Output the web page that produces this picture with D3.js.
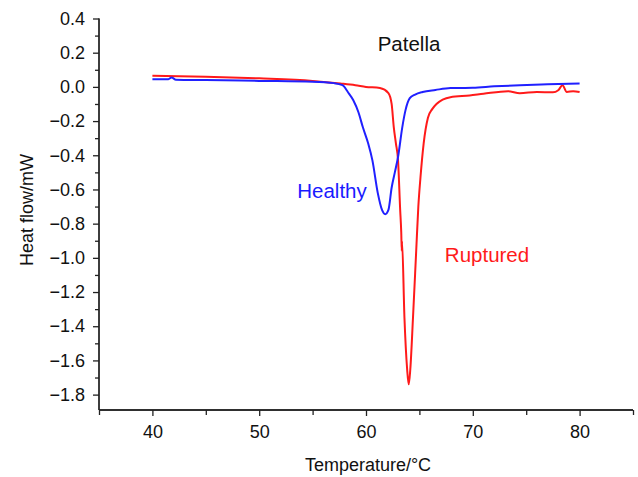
<!DOCTYPE html>
<html><head><meta charset="utf-8">
<script src="https://cdn.jsdelivr.net/npm/d3@7"></script>
<style>body{margin:0;background:#fff}svg{display:block}text{font-family:"Liberation Sans",Arial,sans-serif}</style>
</head><body><svg id="c" width="638" height="477"></svg>
<script>
const healthyT = [40, 41.5, 41.8, 42.2, 45, 50, 55, 57, 57.8, 58.3, 58.8, 59.3, 59.7, 60.2, 60.6, 61.1, 61.5, 61.8, 62.1, 62.4, 62.7, 63.0, 63.4, 63.7, 64.1, 64.6, 65.3, 66.5, 67.9, 70, 72, 74.4, 77, 80];
const healthyV = [0.045, 0.045, 0.055, 0.042, 0.04, 0.035, 0.03, 0.022, 0.01, -0.03, -0.077, -0.15, -0.235, -0.33, -0.43, -0.62, -0.72, -0.745, -0.72, -0.59, -0.5, -0.41, -0.235, -0.136, -0.066, -0.045, -0.03, -0.018, -0.007, -0.005, 0.003, 0.01, 0.015, 0.02];
const rupturedT = [40, 45, 50, 55, 57.6, 59, 60, 61.3, 62.1, 62.4, 62.6, 62.8, 63.0, 63.2, 63.3, 63.35, 63.37, 63.6, 63.85, 64.0, 64.15, 64.4, 64.7, 64.9, 65.1, 65.4, 65.8, 66.2, 66.6, 67.9, 69.7, 71, 73.3, 74.4, 76, 77.5, 78.0, 78.4, 78.8, 79.4, 80];
const rupturedV = [0.065, 0.06, 0.05, 0.035, 0.02, 0.01, 0.0, -0.007, -0.036, -0.1, -0.235, -0.33, -0.43, -0.72, -0.85, -0.96, -0.9, -1.35, -1.65, -1.74, -1.65, -1.35, -0.96, -0.7, -0.53, -0.33, -0.18, -0.13, -0.1, -0.06, -0.05, -0.04, -0.025, -0.037, -0.03, -0.032, -0.02, 0.01, -0.03, -0.025, -0.03];
const xTicks = [40, 50, 60, 70, 80];
const xMinorTicks = [35, 45, 55, 65, 75, 85];
const yTicks = [0.4, 0.2, 0.0, -0.2, -0.4, -0.6, -0.8, -1.0, -1.2, -1.4, -1.6, -1.8];
const yMinorTicks = [0.3, 0.1, -0.1, -0.3, -0.5, -0.7, -0.9, -1.1, -1.3, -1.5, -1.7];

const svg = d3.select("#c");
const x = d3.scaleLinear().domain([35, 85]).range([99, 633]);
const y = d3.scaleLinear().domain([-1.89, 0.4]).range([410, 18.5]);
const fmt = v => (v < 0 ? "\u2212" : "") + Math.abs(v).toFixed(1);

const xg = svg.append("g").attr("transform", "translate(0,410)");
xg.call(d3.axisBottom(x).tickValues(xTicks).tickSize(6).tickPadding(9).tickFormat(d3.format("d")));
xg.append("g").call(d3.axisBottom(x).tickValues(xMinorTicks).tickSize(5).tickFormat(""));
const yg = svg.append("g").attr("transform", "translate(99,0)");
yg.call(d3.axisLeft(y).tickValues(yTicks).tickSize(6).tickPadding(8).tickFormat(fmt));
yg.append("g").call(d3.axisLeft(y).tickValues(yMinorTicks).tickSize(4).tickFormat(""));
svg.selectAll(".domain").attr("stroke", "#222").attr("stroke-width", 1.3);
svg.selectAll(".tick line").attr("stroke", "#222").attr("stroke-width", 1.3);
svg.selectAll(".tick text").attr("font-size", 18).attr("fill", "#111").style("font-family", "Liberation Sans, Arial, sans-serif");
xg.selectAll(".domain").attr("d", `M${x.range()[0]},0H${x.range()[1]}`);
yg.selectAll(".domain").attr("d", `M0,${y.range()[1]}V${y.range()[0]}`);

const line = d3.line().x(d => x(d[0])).y(d => y(d[1])).curve(d3.curveMonotoneX);
svg.append("path").datum(rupturedT.map((t, i) => [t, rupturedV[i]]))
  .attr("d", line).attr("fill", "none").attr("stroke", "#ff1a1a").attr("stroke-width", 2);
svg.append("path").datum(healthyT.map((t, i) => [t, healthyV[i]]))
  .attr("d", line).attr("fill", "none").attr("stroke", "#2020ff").attr("stroke-width", 2);

svg.append("text").attr("x", 409).attr("y", 51).attr("text-anchor", "middle").attr("font-size", 20.5).attr("fill", "#111").text("Patella");
svg.append("text").attr("x", 332).attr("y", 198).attr("text-anchor", "middle").attr("font-size", 20.5).attr("fill", "#1a1aff").text("Healthy");
svg.append("text").attr("x", 487).attr("y", 262).attr("text-anchor", "middle").attr("font-size", 20.5).attr("fill", "#ff1a1a").text("Ruptured");
svg.append("text").attr("x", 368).attr("y", 471).attr("text-anchor", "middle").attr("font-size", 18).attr("fill", "#111").text("Temperature/\u00b0C");
svg.append("text").attr("transform", "translate(33,210) rotate(-90)").attr("text-anchor", "middle").attr("font-size", 18).attr("fill", "#111").text("Heat flow/mW");
</script></body></html>
